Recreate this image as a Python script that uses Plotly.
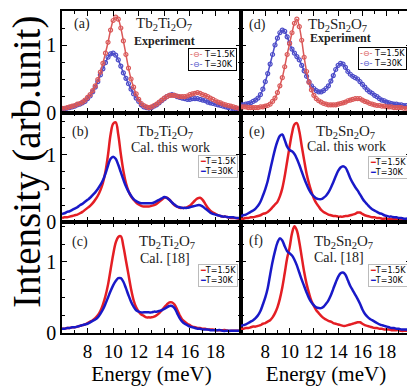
import plotly.graph_objects as go
from plotly.subplots import make_subplots

# energy grid (meV), shared by all curves
ENERGY = [6.0, 6.2, 6.4, 6.6, 6.8, 7.0, 7.2, 7.4, 7.6, 7.8,
          8.0, 8.2, 8.4, 8.6, 8.8, 9.0, 9.2, 9.4, 9.6, 9.8,
          10.0, 10.2, 10.4, 10.6, 10.8, 11.0, 11.2, 11.4, 11.6, 11.8,
          12.0, 12.2, 12.4, 12.6, 12.8, 13.0, 13.2, 13.4, 13.6, 13.8,
          14.0, 14.2, 14.4, 14.6, 14.8, 15.0, 15.2, 15.4, 15.6, 15.8,
          16.0, 16.2, 16.4, 16.6, 16.8, 17.0, 17.2, 17.4, 17.6, 17.8,
          18.0, 18.2, 18.4, 18.6, 18.8, 19.0, 19.2, 19.4, 19.6, 19.8,
          20.0]

# (a) Tb2Ti2O7 experiment
TI_EXP_15K = [0.07, 0.07, 0.08, 0.09, 0.10, 0.11, 0.13, 0.14, 0.16, 0.19,
              0.23, 0.27, 0.33, 0.40, 0.49, 0.60, 0.73, 0.88, 1.04, 1.22,
              1.36, 1.41, 1.38, 1.25, 1.06, 0.86, 0.66, 0.50, 0.38, 0.28,
              0.20, 0.14, 0.11, 0.09, 0.08, 0.09, 0.11, 0.13, 0.16, 0.19,
              0.22, 0.24, 0.26, 0.26, 0.26, 0.25, 0.24, 0.24, 0.24, 0.25,
              0.27, 0.28, 0.29, 0.30, 0.29, 0.27, 0.26, 0.24, 0.22, 0.20,
              0.18, 0.16, 0.15, 0.13, 0.12, 0.11, 0.10, 0.09, 0.08, 0.07,
              0.06]
TI_EXP_30K = [0.06, 0.06, 0.07, 0.08, 0.09, 0.10, 0.12, 0.13, 0.15, 0.17,
              0.21, 0.25, 0.31, 0.38, 0.46, 0.56, 0.65, 0.74, 0.82, 0.87,
              0.88, 0.85, 0.78, 0.69, 0.59, 0.51, 0.43, 0.35, 0.28, 0.22,
              0.17, 0.12, 0.09, 0.08, 0.07, 0.08, 0.10, 0.12, 0.15, 0.18,
              0.21, 0.24, 0.26, 0.27, 0.26, 0.24, 0.23, 0.22, 0.21, 0.20,
              0.20, 0.21, 0.21, 0.21, 0.20, 0.19, 0.18, 0.16, 0.15, 0.14,
              0.13, 0.12, 0.11, 0.10, 0.09, 0.08, 0.07, 0.06, 0.06, 0.05,
              0.04]

# (d) Tb2Sn2O7 experiment
SN_EXP_15K = [0.09, 0.09, 0.09, 0.08, 0.08, 0.08, 0.08, 0.08, 0.09, 0.09,
              0.10, 0.11, 0.13, 0.17, 0.22, 0.30, 0.40, 0.52, 0.68, 0.86,
              1.02, 1.18, 1.32, 1.38, 1.27, 1.07, 0.82, 0.61, 0.45, 0.34,
              0.26, 0.21, 0.18, 0.16, 0.14, 0.13, 0.12, 0.12, 0.12, 0.12,
              0.13, 0.14, 0.15, 0.16, 0.18, 0.19, 0.20, 0.21, 0.21, 0.21,
              0.19, 0.17, 0.16, 0.14, 0.13, 0.12, 0.11, 0.11, 0.10, 0.10,
              0.09, 0.09, 0.09, 0.08, 0.08, 0.08, 0.08, 0.07, 0.07, 0.07,
              0.07]
SN_EXP_30K = [0.12, 0.12, 0.13, 0.14, 0.15, 0.17, 0.19, 0.22, 0.27, 0.35,
              0.46, 0.58, 0.72, 0.86, 1.00, 1.10, 1.18, 1.22, 1.20, 1.12,
              1.03, 0.94, 0.88, 0.83, 0.78, 0.70, 0.62, 0.54, 0.46, 0.40,
              0.36, 0.33, 0.31, 0.31, 0.33, 0.36, 0.40, 0.47, 0.55, 0.64,
              0.70, 0.73, 0.72, 0.67, 0.61, 0.57, 0.54, 0.52, 0.50, 0.46,
              0.42, 0.38, 0.34, 0.31, 0.29, 0.26, 0.24, 0.21, 0.19, 0.18,
              0.16, 0.15, 0.14, 0.13, 0.13, 0.12, 0.12, 0.11, 0.11, 0.10,
              0.10]

# (b) Tb2Ti2O7 calculation, this work
TI_CAL_15K = [0.06, 0.07, 0.07, 0.08, 0.09, 0.10, 0.11, 0.13, 0.15, 0.18,
              0.21, 0.24, 0.28, 0.33, 0.39, 0.47, 0.58, 0.75, 1.00, 1.30,
              1.46, 1.48, 1.30, 1.01, 0.76, 0.58, 0.46, 0.38, 0.33, 0.29,
              0.26, 0.24, 0.23, 0.23, 0.23, 0.24, 0.25, 0.27, 0.30, 0.33,
              0.36, 0.36, 0.33, 0.29, 0.25, 0.23, 0.21, 0.21, 0.21, 0.22,
              0.24, 0.28, 0.32, 0.35, 0.36, 0.33, 0.27, 0.21, 0.17, 0.14,
              0.12, 0.10, 0.09, 0.08, 0.08, 0.07, 0.06, 0.06, 0.06, 0.05,
              0.05]
TI_CAL_30K = [0.12, 0.13, 0.15, 0.16, 0.18, 0.20, 0.22, 0.25, 0.27, 0.30,
              0.33, 0.36, 0.40, 0.44, 0.49, 0.55, 0.62, 0.72, 0.84, 0.94,
              0.97, 0.94, 0.85, 0.74, 0.63, 0.53, 0.45, 0.39, 0.34, 0.31,
              0.29, 0.28, 0.28, 0.28, 0.28, 0.28, 0.29, 0.31, 0.33, 0.35,
              0.37, 0.36, 0.33, 0.29, 0.26, 0.23, 0.22, 0.21, 0.21, 0.21,
              0.22, 0.23, 0.24, 0.25, 0.25, 0.23, 0.20, 0.17, 0.14, 0.12,
              0.11, 0.10, 0.09, 0.08, 0.08, 0.07, 0.07, 0.07, 0.06, 0.06,
              0.06]

# (e) Tb2Sn2O7 calculation, this work
SN_CAL_15K = [0.05, 0.05, 0.06, 0.06, 0.07, 0.07, 0.08, 0.09, 0.10, 0.12,
              0.13, 0.15, 0.18, 0.22, 0.26, 0.30, 0.38, 0.50, 0.68, 0.90,
              1.12, 1.32, 1.45, 1.47, 1.35, 1.13, 0.92, 0.72, 0.57, 0.45,
              0.35, 0.28, 0.23, 0.18, 0.15, 0.13, 0.11, 0.10, 0.09, 0.09,
              0.08, 0.08, 0.08, 0.09, 0.09, 0.10, 0.11, 0.12, 0.14, 0.14,
              0.12, 0.10, 0.09, 0.08, 0.07, 0.07, 0.06, 0.06, 0.05, 0.05,
              0.05, 0.04, 0.04, 0.04, 0.04, 0.04, 0.03, 0.03, 0.03, 0.03,
              0.03]
SN_CAL_30K = [0.09, 0.10, 0.11, 0.13, 0.15, 0.17, 0.20, 0.24, 0.30, 0.39,
              0.49, 0.61, 0.77, 0.93, 1.08, 1.20, 1.28, 1.30, 1.22, 1.12,
              1.07, 1.05, 1.01, 0.94, 0.85, 0.75, 0.65, 0.56, 0.48, 0.42,
              0.38, 0.35, 0.34, 0.34, 0.36, 0.39, 0.44, 0.51, 0.59, 0.68,
              0.76, 0.81, 0.83, 0.81, 0.74, 0.65, 0.58, 0.52, 0.47, 0.41,
              0.35, 0.30, 0.26, 0.22, 0.19, 0.17, 0.15, 0.13, 0.12, 0.10,
              0.09, 0.08, 0.08, 0.07, 0.07, 0.06, 0.06, 0.05, 0.05, 0.05,
              0.04]

# (c) Tb2Ti2O7 calculation, ref. [18]
TI_REF_15K = [0.06, 0.06, 0.07, 0.07, 0.08, 0.08, 0.09, 0.10, 0.11, 0.12,
              0.14, 0.16, 0.18, 0.21, 0.25, 0.31, 0.40, 0.52, 0.68, 0.89,
              1.10, 1.27, 1.35, 1.36, 1.22, 1.02, 0.82, 0.62, 0.46, 0.36,
              0.30, 0.26, 0.24, 0.22, 0.22, 0.22, 0.23, 0.25, 0.28, 0.32,
              0.36, 0.40, 0.43, 0.43, 0.40, 0.33, 0.25, 0.19, 0.16, 0.13,
              0.11, 0.09, 0.08, 0.07, 0.07, 0.06, 0.06, 0.05, 0.05, 0.05,
              0.04, 0.04, 0.04, 0.04, 0.04, 0.03, 0.03, 0.03, 0.03, 0.03,
              0.03]
TI_REF_30K = [0.06, 0.06, 0.07, 0.07, 0.08, 0.08, 0.09, 0.10, 0.11, 0.12,
              0.13, 0.15, 0.17, 0.19, 0.22, 0.27, 0.33, 0.41, 0.50, 0.59,
              0.67, 0.73, 0.77, 0.77, 0.72, 0.63, 0.53, 0.44, 0.37, 0.32,
              0.30, 0.29, 0.29, 0.29, 0.29, 0.29, 0.30, 0.30, 0.31, 0.32,
              0.34, 0.36, 0.38, 0.38, 0.35, 0.28, 0.21, 0.16, 0.13, 0.11,
              0.09, 0.08, 0.07, 0.06, 0.06, 0.05, 0.05, 0.05, 0.04, 0.04,
              0.04, 0.04, 0.04, 0.03, 0.03, 0.03, 0.03, 0.03, 0.03, 0.03,
              0.03]

# (f) Tb2Sn2O7 calculation, ref. [18]
SN_REF_15K = [0.06, 0.06, 0.07, 0.07, 0.08, 0.09, 0.09, 0.10, 0.11, 0.13,
              0.14, 0.16, 0.18, 0.22, 0.28, 0.36, 0.48, 0.64, 0.84, 1.05,
              1.20, 1.40, 1.50, 1.44, 1.28, 1.07, 0.86, 0.69, 0.56, 0.45,
              0.38, 0.32, 0.28, 0.24, 0.21, 0.19, 0.17, 0.16, 0.14, 0.13,
              0.12, 0.11, 0.10, 0.10, 0.11, 0.12, 0.13, 0.14, 0.15, 0.15,
              0.13, 0.11, 0.10, 0.09, 0.08, 0.07, 0.07, 0.06, 0.06, 0.05,
              0.05, 0.05, 0.04, 0.04, 0.04, 0.04, 0.03, 0.03, 0.03, 0.03,
              0.03]
SN_REF_30K = [0.10, 0.11, 0.12, 0.14, 0.16, 0.18, 0.21, 0.25, 0.31, 0.40,
              0.50, 0.63, 0.82, 1.00, 1.15, 1.27, 1.33, 1.30, 1.22, 1.15,
              1.12, 1.09, 1.03, 0.95, 0.85, 0.75, 0.66, 0.57, 0.49, 0.43,
              0.39, 0.36, 0.35, 0.35, 0.37, 0.41, 0.46, 0.53, 0.62, 0.71,
              0.79, 0.84, 0.85, 0.82, 0.74, 0.66, 0.60, 0.54, 0.48, 0.41,
              0.33, 0.27, 0.23, 0.20, 0.18, 0.16, 0.14, 0.12, 0.11, 0.10,
              0.09, 0.08, 0.07, 0.07, 0.06, 0.06, 0.05, 0.05, 0.05, 0.04,
              0.04]

TI = 'Tb<sub>2</sub>Ti<sub>2</sub>O<sub>7</sub>'
SN = 'Tb<sub>2</sub>Sn<sub>2</sub>O<sub>7</sub>'
SERIF = 'Liberation Serif'

fig = make_subplots(rows=3, cols=2, horizontal_spacing=0, vertical_spacing=0,
                    column_widths=[179, 170], row_heights=[102, 109, 111])

# row, col, low-T data, high-T data, experimental?
panels = [
    (1, 1, TI_EXP_15K, TI_EXP_30K, True),
    (1, 2, SN_EXP_15K, SN_EXP_30K, True),
    (2, 1, TI_CAL_15K, TI_CAL_30K, False),
    (2, 2, SN_CAL_15K, SN_CAL_30K, False),
    (3, 1, TI_REF_15K, TI_REF_30K, False),
    (3, 2, SN_REF_15K, SN_REF_30K, False),
]
y_ranges = {1: [0, 1.5], 2: [0, 1.62], 3: [0, 1.56]}

for row, col, low, high, exp in panels:
    if exp:
        for ys, c in [(high, 'rgb(75,75,200)'), (low, 'rgb(218,88,88)')]:
            fig.add_trace(go.Scatter(
                x=ENERGY, y=ys, mode='lines+markers', showlegend=False,
                line=dict(color=c, width=1.5, shape='spline'),
                marker=dict(symbol='circle-open', size=4, color=c, line=dict(width=1.2))
            ), row=row, col=col)
    else:
        for ys, c in [(low, 'rgb(228,30,36)'), (high, 'rgb(25,25,200)')]:
            fig.add_trace(go.Scatter(
                x=ENERGY, y=ys, mode='lines', showlegend=False,
                line=dict(color=c, width=2.5, shape='spline')
            ), row=row, col=col)

    fig.update_xaxes(range=[6, 20], tickvals=[8, 10, 12, 14, 16, 18],
                     showticklabels=(row == 3), ticks='inside', ticklen=5,
                     minor=dict(dtick=1, ticks='inside', ticklen=3, tickcolor='black'),
                     showline=True, linecolor='black', linewidth=1.5, mirror='ticks',
                     tickcolor='black', showgrid=False, zeroline=False, automargin=False,
                     tickfont=dict(family=SERIF, size=19, color='black'),
                     row=row, col=col)
    fig.update_yaxes(range=y_ranges[row], tickvals=[0, 1],
                     showticklabels=(col == 1), ticks='inside', ticklen=5,
                     minor=dict(dtick=0.25, ticks='inside', ticklen=3, tickcolor='black'),
                     showline=True, linecolor='black', linewidth=1.5, mirror='ticks',
                     tickcolor='black', showgrid=False, zeroline=False, automargin=False,
                     tickfont=dict(family=SERIF, size=20, color='black'),
                     row=row, col=col)

fig.update_xaxes(title=dict(text='Energy (meV)', font=dict(family=SERIF, size=21, color='black'),
                            standoff=2), row=3)

# panel labels: (x, y, text, size)
labels = [
    (0.0573, 0.9596, '(a)', 14), (0.2923, 0.9596, TI, 15), (0.2951, 0.9068, '<b>Experiment</b>', 12),
    (0.5616, 0.9565, '(d)', 14), (0.7880, 0.9565, SN, 15), (0.7994, 0.9150, '<b>Experiment</b>', 12),
    (0.0516, 0.6242, '(b)', 14), (0.2951, 0.6242, TI, 15), (0.3095, 0.5776, 'Cal. this work', 14),
    (0.5587, 0.6242, '(e)', 14), (0.8109, 0.6242, SN, 15), (0.8138, 0.5807, 'Cal. this work', 14),
    (0.0516, 0.2826, '(c)', 14), (0.3009, 0.2826, TI, 15), (0.2951, 0.2329, 'Cal. [18]', 14),
    (0.5559, 0.2857, '(f)', 14), (0.8052, 0.2826, SN, 15), (0.7937, 0.2360, 'Cal. [18]', 14),
]
for x, y, t, s in labels:
    fig.add_annotation(x=x, y=y, xref='paper', yref='paper', text=t, showarrow=False,
                       xanchor='center', yanchor='middle',
                       font=dict(family=SERIF, size=s, color='#222'))

# small legend boxes
exp_leg = ("<span style='color:rgb(218,88,88)'>-⊖-</span> T=1.5K<br>"
           "<span style='color:rgb(75,75,200)'>-⊖-</span> T=30K")
cal_leg = ("<span style='color:rgb(228,30,36)'>━</span>T=1.5K<br>"
           "<span style='color:rgb(25,25,200)'>━</span>T=30K")
legends = [
    (0.5014, 0.848, exp_leg, 'black'), (0.9885, 0.851, exp_leg, 'black'),
    (0.5043, 0.5186, cal_leg, '#bbbbbb'), (0.9914, 0.5155, cal_leg, '#bbbbbb'),
    (0.5043, 0.180, cal_leg, '#bbbbbb'), (0.9914, 0.180, cal_leg, '#bbbbbb'),
]
for x, y, t, bc in legends:
    fig.add_annotation(x=x, y=y, xref='paper', yref='paper', text=t, showarrow=False,
                       xanchor='right', yanchor='middle', align='left',
                       bordercolor=bc, borderwidth=1, borderpad=1, bgcolor='white',
                       font=dict(family='DejaVu Sans', size=8, color='black'))

# y axis title
fig.add_annotation(x=-0.1003, y=0.531, xref='paper', yref='paper', text='Intensity (arb.unit)',
                   textangle=-90, showarrow=False, xanchor='center', yanchor='middle',
                   font=dict(family=SERIF, size=39, color='black'))

# the page body adds an 8px margin, so the figure is 8px smaller than the window
fig.update_layout(
    width=407, height=381,
    margin=dict(l=54, r=4, t=3, b=56),
    plot_bgcolor='white', paper_bgcolor='white',
)

fig.write_html("out.html")
